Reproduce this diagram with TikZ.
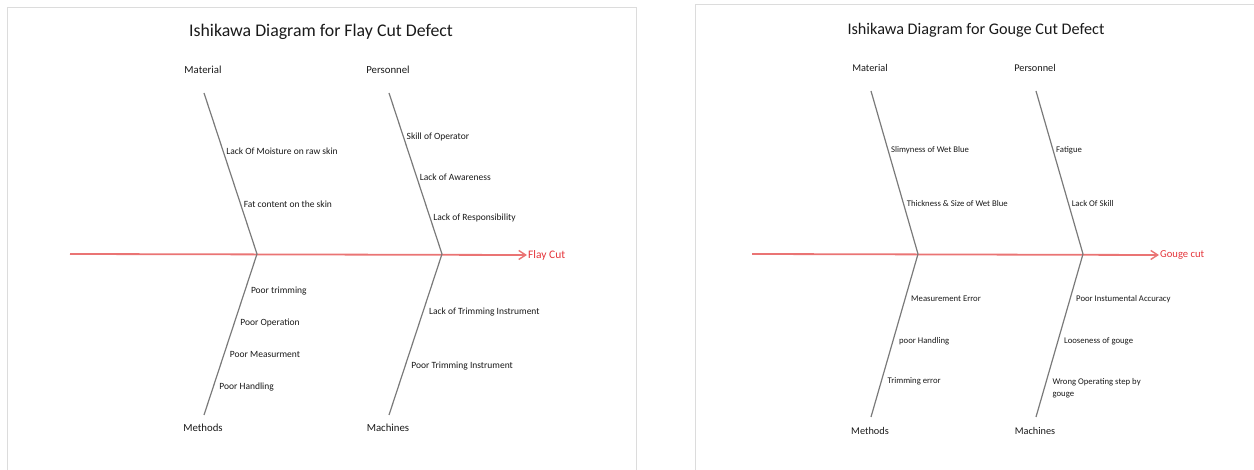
\documentclass[tikz,border=0pt]{standalone}
\usepackage{fontspec}
\setmainfont{Carlito}
\usetikzlibrary{arrows.meta,calc}
\definecolor{spinered}{HTML}{EA7474}
\definecolor{effectred}{HTML}{E4343A}
\definecolor{bonegray}{HTML}{7A7A7A}
\definecolor{framegray}{HTML}{DCDCDC}
\definecolor{textgray}{HTML}{1A1A1A}
\tikzset{
  frame/.style={draw=framegray, line width=1pt},
  headline/.style={font=\fontsize{17.8}{20}\selectfont, text=textgray},
  category/.style={font=\fontsize{10.8}{12}\selectfont, text=textgray},
  cause/.style={anchor=west, inner sep=1pt, font=\fontsize{9.5}{13}\selectfont, text=textgray, align=left},
  effect/.style={anchor=west, inner sep=1pt, font=\fontsize{11.5}{13}\selectfont, text=effectred},
  bone/.style={draw=bonegray, line width=1.2pt},
  spine/.style={draw=spinered, line width=1.8pt, -{Straight Barb[length=7pt,width=9pt,line width=1.4pt]}},
  % the second panel is set a little smaller
  small panel/.style={
    headline/.append style={font=\fontsize{16.2}{18}\selectfont},
    category/.append style={font=\fontsize{10.3}{12}\selectfont},
    cause/.append style={font=\fontsize{8.7}{12.5}\selectfont},
    effect/.append style={font=\fontsize{10.6}{12}\selectfont}}
}
\begin{document}
\begin{tikzpicture}[x=1pt, y=-1pt]
  \useasboundingbox (0,0) rectangle (1254,470);
  % panel frames
  \draw[frame] (7,470) |- (636,8) -- (636,470);
  \draw[frame] (695,470) |- (1254,5);

  % Flay Cut
  \node[headline] (title1) at (321,32) {Ishikawa Diagram for Flay Cut Defect};
  \coordinate (tail1) at (70,254);
  \coordinate (joinA1) at (257,254);
  \coordinate (joinB1) at (442,254);
  \coordinate (mat1) at (204,93);
  \coordinate (per1) at (389,93);
  \coordinate (met1) at (204,415);
  \coordinate (mac1) at (389,415);
  \node[effect] (flay) at (527,255) {Flay Cut};
  \draw[spine] (tail1) -- (flay.west);
  \draw[bone] (mat1) -- (joinA1) -- (met1);
  \draw[bone] (per1) -- (joinB1) -- (mac1);
  \node[category] (matlbl1) at (203,70) {Material};
  \node[category] (perlbl1) at (388,70) {Personnel};
  \node[category] (metlbl1) at (203,428) {Methods};
  \node[category] (maclbl1) at (388,428) {Machines};
  \node[cause, xshift=2pt] (mat1a) at ($(mat1)!0.36!(joinA1)$) {Lack Of Moisture on raw skin};
  \node[cause, xshift=2pt] (mat1b) at ($(mat1)!0.69!(joinA1)$) {Fat content on the skin};
  \node[cause, xshift=2pt] (per1a) at ($(per1)!0.273!(joinB1)$) {Skill of Operator};
  \node[cause, xshift=2pt] (per1b) at ($(per1)!0.522!(joinB1)$) {Lack of Awareness};
  \node[cause, xshift=2pt] (per1c) at ($(per1)!0.776!(joinB1)$) {Lack of Responsibility};
  \node[cause, xshift=5pt] (met1a) at ($(joinA1)!0.23!(met1)$) {Poor trimming};
  \node[cause, xshift=5pt] (met1b) at ($(joinA1)!0.429!(met1)$) {Poor Operation};
  \node[cause, xshift=5pt] (met1c) at ($(joinA1)!0.627!(met1)$) {Poor Measurment};
  \node[cause, xshift=5pt] (met1d) at ($(joinA1)!0.826!(met1)$) {Poor Handling};
  \node[cause, xshift=5pt] (mac1a) at ($(joinB1)!0.36!(mac1)$) {Lack of Trimming Instrument};
  \node[cause, xshift=5pt] (mac1b) at ($(joinB1)!0.696!(mac1)$) {Poor Trimming Instrument};

  % Gouge Cut
  \begin{scope}[small panel]
  \node[headline] (title2) at (976,30) {Ishikawa Diagram for Gouge Cut Defect};
  \coordinate (tail2) at (752,254);
  \coordinate (joinA2) at (918,254);
  \coordinate (joinB2) at (1083,254);
  \coordinate (mat2) at (871,91);
  \coordinate (per2) at (1036,91);
  \coordinate (met2) at (871,417);
  \coordinate (mac2) at (1036,417);
  \node[effect] (gouge) at (1159,255) {Gouge cut};
  \draw[spine] (tail2) -- (gouge.west);
  \draw[bone] (mat2) -- (joinA2) -- (met2);
  \draw[bone] (per2) -- (joinB2) -- (mac2);
  \node[category] (matlbl2) at (870,68) {Material};
  \node[category] (perlbl2) at (1035,68) {Personnel};
  \node[category] (metlbl2) at (870,431) {Methods};
  \node[category] (maclbl2) at (1035,431) {Machines};
  \node[cause, xshift=2pt] (mat2a) at ($(mat2)!0.362!(joinA2)$) {Slimyness of Wet Blue};
  \node[cause, xshift=2pt] (mat2b) at ($(mat2)!0.693!(joinA2)$) {Thickness \& Size of Wet Blue};
  \node[cause, xshift=2pt] (per2a) at ($(per2)!0.362!(joinB2)$) {Fatigue};
  \node[cause, xshift=2pt] (per2b) at ($(per2)!0.693!(joinB2)$) {Lack Of Skill};
  \node[cause, xshift=5pt] (met2a) at ($(joinA2)!0.276!(met2)$) {Measurement Error};
  \node[cause, xshift=5pt] (met2b) at ($(joinA2)!0.534!(met2)$) {poor Handling};
  \node[cause, xshift=5pt] (met2c) at ($(joinA2)!0.779!(met2)$) {Trimming error};
  \node[cause, xshift=5pt] (mac2a) at ($(joinB2)!0.276!(mac2)$) {Poor Instumental Accuracy};
  \node[cause, xshift=5pt] (mac2b) at ($(joinB2)!0.534!(mac2)$) {Looseness of gouge};
  \node[cause, xshift=7pt] (mac2c) at ($(joinB2)!0.822!(mac2)$) {Wrong Operating step by\\gouge};
  \end{scope}
\end{tikzpicture}
\end{document}
